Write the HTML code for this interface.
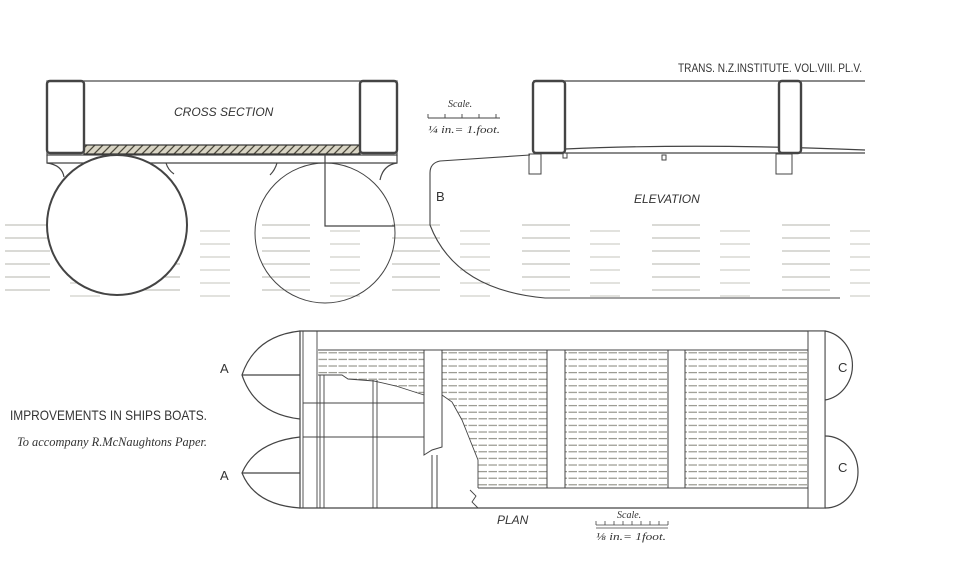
<!DOCTYPE html>
<html><head><meta charset="utf-8"><style>
html,body{margin:0;padding:0;background:#fff;}
svg{display:block}
text{font-family:"Liberation Sans",sans-serif;fill:#333}
.it{font-family:"Liberation Serif",serif;font-style:italic}
</style></head><body>
<svg width="960" height="581" viewBox="0 0 960 581" xmlns="http://www.w3.org/2000/svg">
<defs>
<pattern id="wood" width="8" height="8" patternUnits="userSpaceOnUse">
<rect width="8" height="8" fill="#d8d4c4"/>
<path d="M0 8 L8 0 M-2 2 L2 -2 M6 10 L10 6" stroke="#4a473a" stroke-width="1.3"/>
</pattern>
<pattern id="slat" width="10" height="6.6" patternUnits="userSpaceOnUse">
<line x1="0" y1="3" x2="10" y2="3" stroke="#8a8a80" stroke-width="1" stroke-dasharray="7 1.5"/>
</pattern>
<pattern id="water" width="130" height="13" patternUnits="userSpaceOnUse">
<line x1="2" y1="4" x2="50" y2="4" stroke="#b4b4ac" stroke-width="1"/>
<line x1="70" y1="10" x2="100" y2="10" stroke="#c4c4bc" stroke-width="1"/>
</pattern>
</defs>
<g fill="none" stroke="#444" stroke-width="1.2">
<rect x="5" y="220" width="865" height="82" fill="url(#water)" stroke="none"/>
<!-- cross section -->
<rect x="47" y="81" width="350" height="74" fill="#fff"/>
<rect x="84" y="145" width="276" height="9" fill="url(#wood)" stroke="#333"/>
<rect x="47" y="81" width="37" height="72" rx="3" stroke-width="2.4"/>
<rect x="360" y="81" width="37" height="72" rx="3" stroke-width="2.4"/>
<path d="M47 155 V163 H397 V155"/>
<path d="M47 163 Q62 165 64 177 M166 163 Q168 170 174 174 M277 163 Q275 170 270 175 M397 163 Q383 165 380 180"/>
<circle cx="117" cy="225" r="70" fill="#fff" stroke-width="2"/>
<circle cx="325" cy="233" r="70" fill="none" stroke-width="1"/>
<path d="M325 155 V226 H395" stroke-width="1.2"/>
<path d="M428 118 H500 M428 114 V118 M445 114 V118 M462 114 V118 M479 114 V118 M496 114 V118" stroke-width="0.9"/>
<!-- elevation -->
<path d="M533 81 H865 M565 149 Q700 143 865 150 M565 153 H865" stroke-width="1.2"/>
<rect x="533" y="81" width="32" height="72" rx="3" stroke-width="2.4" fill="#fff"/>
<rect x="779" y="81" width="22" height="72" rx="3" stroke-width="2.4" fill="#fff"/>
<rect x="529" y="154" width="12" height="20" stroke-width="1"/>
<rect x="776" y="154" width="16" height="20" stroke-width="1"/>
<rect x="563" y="153" width="4" height="5" stroke-width="1"/>
<rect x="662" y="155" width="4" height="5" stroke-width="1"/>
<path d="M530 155 L440 161 Q430 163 430 173 V225 Q455 290 545 298 H840" stroke-width="1.1"/>
<!-- plan -->
<path d="M300 331 H825 V508 H300 Z" fill="#fff"/>
<rect x="318" y="350" width="490" height="138" fill="url(#slat)" stroke="none"/>
<path d="M318 375 L342 375 L348 379 L374 381 L396 386 L424 395 V490 H318 Z" fill="#fff" stroke="none"/>
<path d="M442 395 L452 402 L462 420 L470 440 L478 460 V490 H442 Z" fill="#fff" stroke="none"/>
<rect x="423" y="440" width="20" height="50" fill="#fff" stroke="none"/>
<path d="M318 350 H808 M300 331 V508 M303 331 V508 M317 331 V508 M320 375 V508 M324 375 V508 M373 380 V508 M377 380 V508 M303 403 H424 M303 437 H424" stroke-width="0.9"/>
<path d="M318 375 L342 375 L348 379 L374 381 L396 386 L424 395 M442 395 L452 402 L462 420 L470 440 L478 460 V488 M478 488 H808 M470 490 L476 496 L472 502 L478 508" stroke-width="0.9"/>
<path d="M424 350 V455 L432 450 L442 447 V350 Z M432 455 V508 M437 455 V508" fill="#fff" stroke-width="1"/>
<rect x="547" y="350" width="18" height="138" fill="#fff" stroke-width="1"/>
<rect x="668" y="350" width="17" height="138" fill="#fff" stroke-width="1"/>
<rect x="808" y="331" width="17" height="177" fill="#fff" stroke-width="1"/>
<path d="M300 331 Q255 336 242 375 Q255 414 300 419 M242 375 H300"/>
<path d="M300 437 Q255 442 242 473 Q255 505 300 508 M242 473 H300"/>
<path d="M825 331 A33 35 0 0 1 825 400"/>
<path d="M825 436 A33 36 0 0 1 825 508"/>
<path d="M596 525 H668 M596 521 V525 M605 521 V525 M614 521 V525 M623 521 V525 M632 521 V525 M641 521 V525 M650 521 V525 M659 521 V525 M668 521 V525 M596 528 H668" stroke-width="0.8"/>
</g>
<g>
<text x="174" y="116" font-size="12" font-style="italic">CROSS SECTION</text>
<text x="634" y="203" font-size="12" font-style="italic">ELEVATION</text>
<text x="678" y="72" font-size="12" textLength="184" lengthAdjust="spacingAndGlyphs">TRANS. N.Z.INSTITUTE. VOL.VIII. PL.V.</text>
<text x="436" y="201" font-size="13">B</text>
<text x="220" y="373" font-size="13">A</text>
<text x="220" y="480" font-size="13">A</text>
<text x="838" y="372" font-size="13">C</text>
<text x="838" y="472" font-size="13">C</text>
<text x="497" y="524" font-size="12" font-style="italic">PLAN</text>
<text x="10" y="420" font-size="14" textLength="197" lengthAdjust="spacingAndGlyphs">IMPROVEMENTS IN SHIPS BOATS.</text>
<text class="it" x="17" y="446" font-size="13" textLength="190" lengthAdjust="spacingAndGlyphs">To accompany R.McNaughtons Paper.</text>
<text class="it" x="448" y="107" font-size="10">Scale.</text>
<text class="it" x="428" y="133" font-size="10" textLength="72" lengthAdjust="spacingAndGlyphs">¼ in.= 1.foot.</text>
<text class="it" x="617" y="518" font-size="10">Scale.</text>
<text class="it" x="596" y="540" font-size="10" textLength="70" lengthAdjust="spacingAndGlyphs">⅛ in.= 1foot.</text>
</g>
</svg>
</body></html>
